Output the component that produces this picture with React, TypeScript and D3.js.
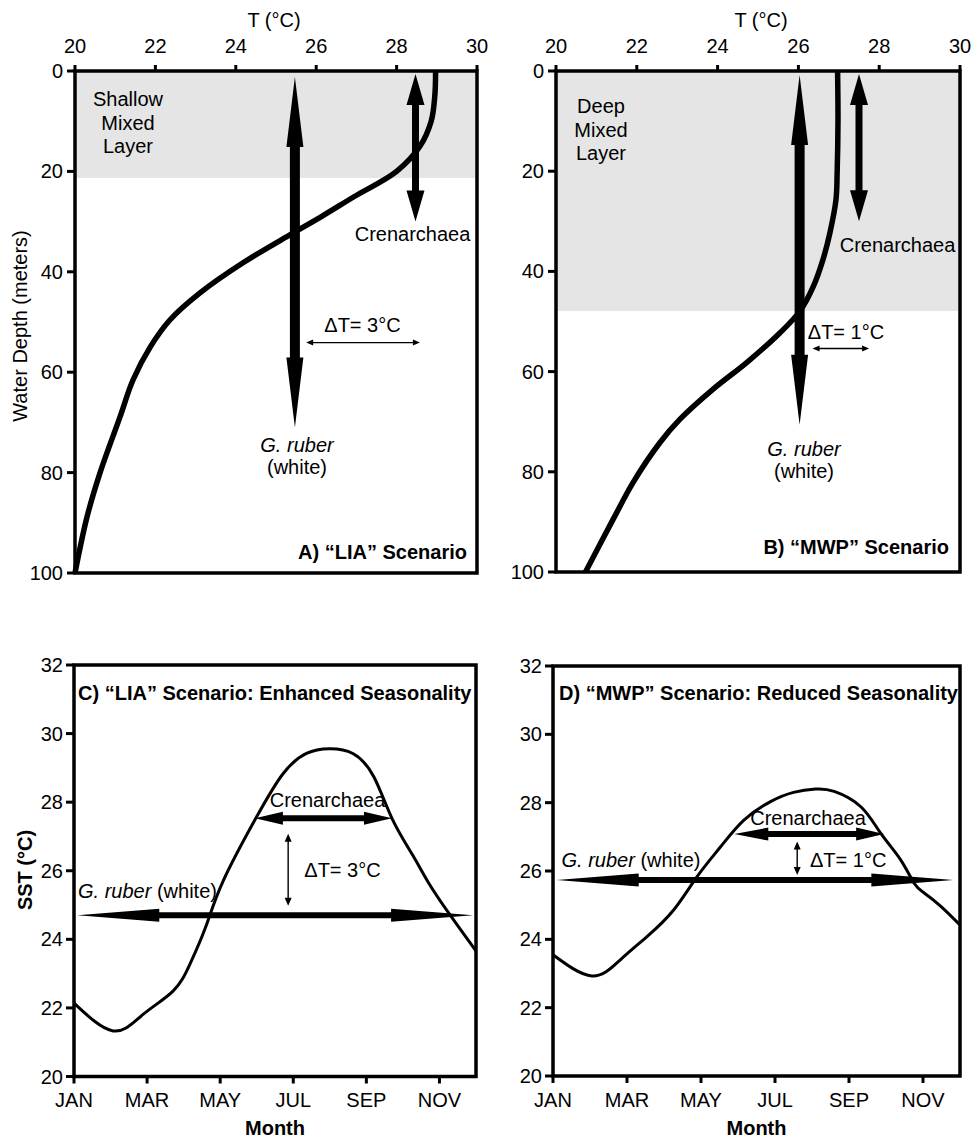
import React from "react";
import * as d3 from "d3";

// ---------- DATA ----------
const depthTicks = [0, 20, 40, 60, 80, 100];
const tempTicks = [20, 22, 24, 26, 28, 30];
const sstTicks = [20, 22, 24, 26, 28, 30, 32];
const monthTickValues = [1, 3, 5, 7, 9, 11];
const monthTickLabels = ["JAN", "MAR", "MAY", "JUL", "SEP", "NOV"];

// Panel A ("LIA") temperature profile
const depthA = [0, 5, 10, 15, 20, 25, 29, 32.3, 38.2, 44.2, 49.6, 55, 61.6, 68.9, 80.1, 88.8, 100];
const tempA = [28.97, 28.95, 28.86, 28.58, 28.0, 26.95, 26.13, 25.42, 24.18, 23.11, 22.36, 21.87, 21.44, 21.12, 20.62, 20.3, 20.0];
const mixedLayerA = 21.3;

// Panel B ("MWP") temperature profile
const depthB = [0, 10, 20, 25.7, 32.3, 37.6, 43, 47.9, 52.3, 58.2, 63.5, 69.5, 74.2, 82.1, 89.4, 100];
const tempB = [26.97, 26.98, 26.96, 26.93, 26.78, 26.61, 26.37, 26.04, 25.54, 24.72, 23.89, 23.07, 22.57, 21.91, 21.42, 20.73];
const mixedLayerB = 47.9;

// Profile arrows: [temperature, depthTop, depthBottom]
const rubberA = [25.47, 1.2, 71];
const crenA = [28.47, 0.6, 30];
const deltaA = [54.1, 25.75, 28.58]; // depth, T from, T to
const rubberB = [26.03, 0.8, 70.6];
const crenB = [27.5, 0.6, 30];
const deltaB = [55.4, 26.35, 27.75];

// Panel C ("LIA" seasonality)
const monthsC = [1, 2.07, 2.89, 3.71, 4.17, 4.6, 5.08, 5.99, 6.72, 7.36, 7.99, 8.63, 9.2, 9.7, 10.27, 10.7, 11.27, 12];
const sstC = [22.14, 21.33, 21.81, 22.49, 23.27, 24.35, 25.7, 27.56, 28.83, 29.42, 29.56, 29.42, 28.75, 27.53, 26.45, 25.65, 24.74, 23.66];

// Panel D ("MWP" seasonality)
const monthsD = [1, 2.05, 2.82, 3.54, 4.26, 4.89, 5.53, 6.16, 6.88, 7.5, 8.1, 8.6, 9.32, 9.86, 10.4, 10.76, 11.04, 11.49, 12];
const sstD = [23.55, 22.93, 23.4, 24.08, 24.86, 25.83, 26.71, 27.49, 28.03, 28.3, 28.4, 28.33, 27.88, 27.1, 26.32, 25.64, 25.35, 24.96, 24.42];

// Seasonal arrows: [sst, monthFrom, monthTo] ; delta: [month, sstFrom, sstTo]
const crenC = [27.53, 5.95, 9.7];
const rubberC = [24.7, 1.09, 11.92];
const deltaC = [6.86, 27.08, 24.98];
const crenD = [27.08, 5.9, 9.95];
const rubberD = [25.74, 1.1, 11.82];
const deltaD = [7.6, 26.86, 25.88];

// ---------- HELPERS ----------
const FONT = "'Liberation Sans', Arial, Helvetica, sans-serif";

function arrowPoly(x0: number, y0: number, x1: number, y1: number, w: number, hw: number, hl: number, hl2?: number) {
  const dx = x1 - x0, dy = y1 - y0;
  const L = Math.hypot(dx, dy);
  const ux = dx / L, uy = dy / L;
  const nx = -uy, ny = ux;
  const h2 = hl2 ?? hl;
  const P = (t: number, s: number) => `${x0 + ux * t + nx * s},${y0 + uy * t + ny * s}`;
  return [
    P(0, 0), P(hl, hw / 2), P(hl, w / 2), P(L - h2, w / 2), P(L - h2, hw / 2), P(L, 0),
    P(L - h2, -hw / 2), P(L - h2, -w / 2), P(hl, -w / 2), P(hl, -hw / 2),
  ].join(" ");
}

type Box = { x0: number; x1: number; y0: number; y1: number };

function ProfilePanel(props: {
  box: Box; temps: number[]; depths: number[]; mixed: number;
  rubber: number[]; cren: number[]; delta: number[];
  layerWords: string[]; layerX: number; layerY: number;
  crenLabel: [number, number]; deltaLabel: [number, number, string];
  rubberLabel: [number, number]; title: [number, number, string];
  tLabelX: number;
}) {
  const { box } = props;
  const x = d3.scaleLinear().domain([20, 30]).range([box.x0, box.x1]);
  const y = d3.scaleLinear().domain([0, 100]).range([box.y0, box.y1]);
  const pts = props.temps.map((t, i) => [t, props.depths[i]] as [number, number]);
  const line = d3.line<[number, number]>().x(d => x(d[0])).y(d => y(d[1])).curve(d3.curveCatmullRom.alpha(0.5));
  return (
    <g>
      <rect x={box.x0} y={box.y0} width={box.x1 - box.x0} height={y(props.mixed) - box.y0} fill="#e5e5e5" />
      <path d={line(pts) || ""} fill="none" stroke="#000" strokeWidth={5.5} strokeLinejoin="round" />
      <polygon fill="#000" points={arrowPoly(x(props.rubber[0]), y(props.rubber[1]), x(props.rubber[0]), y(props.rubber[2]), 10, 17, 70)} />
      <polygon fill="#000" points={arrowPoly(x(props.cren[0]), y(props.cren[1]), x(props.cren[0]), y(props.cren[2]), 7, 18, 31)} />
      <polygon fill="#000" points={arrowPoly(x(props.delta[1]), y(props.delta[0]), x(props.delta[2]), y(props.delta[0]), 1.4, 6, 7)} />
      <rect x={box.x0} y={box.y0} width={box.x1 - box.x0} height={box.y1 - box.y0} fill="none" stroke="#000" strokeWidth={3.5} />
      {tempTicks.map(t => (
        <g key={"tt" + t}>
          <line x1={x(t)} x2={x(t)} y1={box.y0} y2={box.y0 - 6} stroke="#000" strokeWidth={3} />
          <text x={x(t)} y={52.5} textAnchor="middle" fontSize={20}>{t}</text>
        </g>
      ))}
      {depthTicks.map(d => (
        <g key={"dt" + d}>
          <line x1={box.x0} x2={box.x0 - 8} y1={y(d)} y2={y(d)} stroke="#000" strokeWidth={3} />
          <text x={box.x0 - 12} y={y(d) + 7} textAnchor="end" fontSize={20}>{d}</text>
        </g>
      ))}
      <text x={props.tLabelX} y={27} textAnchor="middle" fontSize={20}>T (°C)</text>
      {props.layerWords.map((w, i) => (
        <text key={w} x={props.layerX} y={props.layerY + i * 23.5} textAnchor="middle" fontSize={20}>{w}</text>
      ))}
      <text x={props.crenLabel[0]} y={props.crenLabel[1]} textAnchor="middle" fontSize={20}>Crenarchaea</text>
      <text x={props.deltaLabel[0]} y={props.deltaLabel[1]} textAnchor="middle" fontSize={20}>{props.deltaLabel[2]}</text>
      <text x={props.rubberLabel[0]} y={props.rubberLabel[1]} textAnchor="middle" fontSize={20} fontStyle="italic">G. ruber</text>
      <text x={props.rubberLabel[0]} y={props.rubberLabel[1] + 22} textAnchor="middle" fontSize={20}>(white)</text>
      <text x={props.title[0]} y={props.title[1]} textAnchor="end" fontSize={20} fontWeight="bold">{props.title[2]}</text>
    </g>
  );
}

function SeasonPanel(props: {
  box: Box; months: number[]; sst: number[];
  cren: number[]; rubber: number[]; delta: number[];
  crenHeads: [number, number];
  title: [number, number, string];
  crenLabel: [number, number];
  deltaLabel: [number, number, string, string];
  rubberLabel: [number, number];
}) {
  const { box } = props;
  const x = d3.scaleLinear().domain([1, 12]).range([box.x0, box.x1]);
  const y = d3.scaleLinear().domain([20, 32]).range([box.y1, box.y0]);
  const pts = props.months.map((m, i) => [m, props.sst[i]] as [number, number]);
  const line = d3.line<[number, number]>().x(d => x(d[0])).y(d => y(d[1])).curve(d3.curveNatural);
  return (
    <g>
      <path d={line(pts) || ""} fill="none" stroke="#000" strokeWidth={3} />
      <polygon fill="#000" points={arrowPoly(x(props.cren[1]), y(props.cren[0]), x(props.cren[2]), y(props.cren[0]), 6, 13, props.crenHeads[0], props.crenHeads[1])} />
      <polygon fill="#000" points={arrowPoly(x(props.rubber[1]), y(props.rubber[0]), x(props.rubber[2]), y(props.rubber[0]), 6, 13, 82)} />
      <polygon fill="#000" points={arrowPoly(x(props.delta[0]), y(props.delta[1]), x(props.delta[0]), y(props.delta[2]), 1.4, 7, 8)} />
      <rect x={box.x0} y={box.y0} width={box.x1 - box.x0} height={box.y1 - box.y0} fill="none" stroke="#000" strokeWidth={3.5} />
      {sstTicks.map(t => (
        <g key={"st" + t}>
          <line x1={box.x0} x2={box.x0 - 8} y1={y(t)} y2={y(t)} stroke="#000" strokeWidth={3} />
          <text x={box.x0 - 11} y={y(t) + 7} textAnchor="end" fontSize={20}>{t}</text>
        </g>
      ))}
      {monthTickValues.map((m, i) => (
        <g key={"mt" + m}>
          <line x1={x(m)} x2={x(m)} y1={box.y1} y2={box.y1 + 7} stroke="#000" strokeWidth={3} />
          <text x={x(m)} y={1106.5} textAnchor="middle" fontSize={20}>{monthTickLabels[i]}</text>
        </g>
      ))}
      <text x={(box.x0 + box.x1) / 2} y={1135} textAnchor="middle" fontSize={20} fontWeight="bold">Month</text>
      <text x={props.title[0]} y={props.title[1]} fontSize={20} fontWeight="bold">{props.title[2]}</text>
      <text x={props.crenLabel[0]} y={props.crenLabel[1]} textAnchor="middle" fontSize={20}>Crenarchaea</text>
      <text x={props.deltaLabel[0]} y={props.deltaLabel[1]} textAnchor={props.deltaLabel[3] as any} fontSize={20}>{props.deltaLabel[2]}</text>
      <text x={props.rubberLabel[0]} y={props.rubberLabel[1]} fontSize={20}>
        <tspan fontStyle="italic">G. ruber</tspan> (white)
      </text>
    </g>
  );
}

export default function App() {
  return (
    <svg width={972} height={1139} viewBox="0 0 972 1139"
      style={{ position: "absolute", left: 0, top: 0, background: "#fff" }}
      fontFamily={FONT} fill="#000">
      <rect x={0} y={0} width={972} height={1139} fill="#fff" />
      <ProfilePanel
        box={{ x0: 75, x1: 477, y0: 71, y1: 573 }}
        temps={tempA} depths={depthA} mixed={mixedLayerA}
        rubber={rubberA} cren={crenA} delta={deltaA}
        layerWords={["Shallow", "Mixed", "Layer"]} layerX={128} layerY={106}
        crenLabel={[412.5, 240.5]} deltaLabel={[362.5, 331.5, "ΔT= 3°C"]}
        rubberLabel={[297, 451.5]} title={[467, 559, "A) “LIA” Scenario"]}
        tLabelX={274}
      />
      <ProfilePanel
        box={{ x0: 556, x1: 960, y0: 71, y1: 572 }}
        temps={tempB} depths={depthB} mixed={mixedLayerB}
        rubber={rubberB} cren={crenB} delta={deltaB}
        layerWords={["Deep", "Mixed", "Layer"]} layerX={601} layerY={113}
        crenLabel={[897.5, 252]} deltaLabel={[846, 339, "ΔT= 1°C"]}
        rubberLabel={[804, 456]} title={[949, 553.5, "B) “MWP” Scenario"]}
        tLabelX={761}
      />
      <text transform="translate(27,326) rotate(-90)" textAnchor="middle" fontSize={20}>Water Depth (meters)</text>

      <SeasonPanel
        box={{ x0: 74, x1: 476, y0: 665, y1: 1076.5 }}
        months={monthsC} sst={sstC}
        cren={crenC} rubber={rubberC} delta={deltaC} crenHeads={[28, 28]}
        title={[78, 699.5, "C) “LIA” Scenario: Enhanced Seasonality"]}
        crenLabel={[327.5, 806.5]} deltaLabel={[342.5, 877, "ΔT= 3°C", "middle"]}
        rubberLabel={[78, 897.5]}
      />
      <SeasonPanel
        box={{ x0: 553, x1: 960, y0: 666, y1: 1076 }}
        months={monthsD} sst={sstD}
        cren={crenD} rubber={rubberD} delta={deltaD} crenHeads={[34, 28]}
        title={[559, 700, "D) “MWP” Scenario: Reduced Seasonality"]}
        crenLabel={[808, 824.5]} deltaLabel={[810, 867, "ΔT= 1°C", "start"]}
        rubberLabel={[561.5, 867]}
      />
      <text transform="translate(32,870) rotate(-90)" textAnchor="middle" fontSize={20} fontWeight="bold">SST (°C)</text>
    </svg>
  );
}
